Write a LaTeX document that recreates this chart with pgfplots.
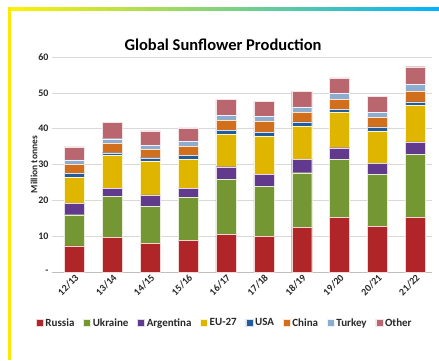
\documentclass[border=0pt]{standalone}
\usepackage{pgfplots}
\pgfplotsset{compat=1.18}
\usepackage{fontspec}
\setmainfont{Carlito}
\definecolor{cRus}{RGB}{200,42,46}
\definecolor{cUkr}{RGB}{132,172,58}
\definecolor{cArg}{RGB}{110,66,160}
\definecolor{cEU}{RGB}{255,206,0}
\definecolor{cUSA}{RGB}{40,104,178}
\definecolor{cChi}{RGB}{238,126,32}
\definecolor{cTur}{RGB}{160,196,234}
\definecolor{cOth}{RGB}{210,116,126}
\definecolor{lab}{RGB}{40,40,40}
\pgfplotstableread{
x Rus Ukr Arg EU USA Chi Tur Oth
0 7.3 8.7 3.2 7.2 1.1 2.5 1.3 3.6
1 9.6 11.6 2.1 9.3 0.7 2.6 1.3 4.5
2 8.0 10.4 3.1 9.3 1.1 2.3 1.2 4.0
3 8.9 12.0 2.4 8.1 1.2 2.4 1.4 3.8
4 10.5 15.4 3.5 9.0 1.1 2.9 1.3 4.5
5 10.0 14.0 3.3 10.5 1.1 3.2 1.4 4.2
6 12.4 15.3 3.7 9.3 1.2 2.6 1.6 4.4
7 15.2 16.2 3.3 9.8 0.9 2.8 1.6 4.4
8 12.8 14.5 3.0 9.0 1.2 2.6 1.4 4.6
9 15.2 17.6 3.5 10.2 1.0 3.0 1.9 4.9
}\data
\tikzset{barsh/.style={left color=#1!88!black, middle color=#1!90!white, right color=#1!88!black, draw=white!80!#1, line width=0.3pt}}
\begin{document}
\begin{tikzpicture}
\useasboundingbox (0pt,0pt) rectangle (439pt,360pt);
\fill[white] (0pt,0pt) rectangle (439pt,360pt);
\shade[left color=yellow!90!orange, right color=cyan!70!blue] (8pt,350pt) rectangle (439pt,353pt);
\fill[yellow!90!orange] (8pt,0pt) rectangle (11pt,353pt);
\node[font=\bfseries, text=black] at (223pt,315pt) {\fontsize{16.5}{18}\selectfont Global Sunflower Production};
\begin{axis}[
  at={(52pt,88pt)}, anchor=south west,
  scale only axis, width=380pt, height=215pt,
  ybar stacked, bar width=20pt,
  xmin=-0.59, xmax=9.44, ymin=0, ymax=60,
  ytick={0,10,...,60}, yticklabels={-,10,20,30,40,50,60},
  xtick={0,...,9},
  xticklabels={12/13,13/14,14/15,15/16,16/17,17/18,18/19,19/20,20/21,21/22},
  x tick label style={rotate=45, anchor=north east, font=\bfseries\fontsize{10}{11}\selectfont, text=lab, inner sep=1pt},
  y tick label style={font=\bfseries\fontsize{10}{11}\selectfont, text=lab},
  ylabel={\bfseries Million tonnes}, ylabel style={font=\fontsize{9.5}{10}\selectfont, text=lab},
  ylabel shift=-6pt,
  /pgf/number format/assume math mode=true,
  separate axis lines,
  x axis line style={black!25},
  y axis line style={draw=none},
  axis x line*=bottom,
  axis y line*=left,
  major tick length=3pt, xtick style={draw=none}, ytick style={draw=none},
  ymajorgrids, grid style={black!15, line width=0.4pt},
  legend style={at={(0.455,-0.237)}, anchor=center, draw=none, fill=none,
    legend columns=-1, font=\bfseries\fontsize{11}{12}\selectfont, text=lab,
    /tikz/every even column/.append style={column sep=7pt}},
  legend image code/.code={\fill[#1] (0pt,-3.5pt) rectangle (7pt,3.5pt);},
  clip=false,
]
\addplot[barsh=cRus] table[x=x,y=Rus]{\data};
\addplot[barsh=cUkr] table[x=x,y=Ukr]{\data};
\addplot[barsh=cArg] table[x=x,y=Arg]{\data};
\addplot[barsh=cEU] table[x=x,y=EU]{\data};
\addplot[barsh=cUSA] table[x=x,y=USA]{\data};
\addplot[barsh=cChi] table[x=x,y=Chi]{\data};
\addplot[barsh=cTur] table[x=x,y=Tur]{\data};
\addplot[barsh=cOth] table[x=x,y=Oth]{\data};
\legend{Russia,Ukraine,Argentina,EU-27,USA,China,Turkey,Other}
\end{axis}
\end{tikzpicture}
\end{document}
